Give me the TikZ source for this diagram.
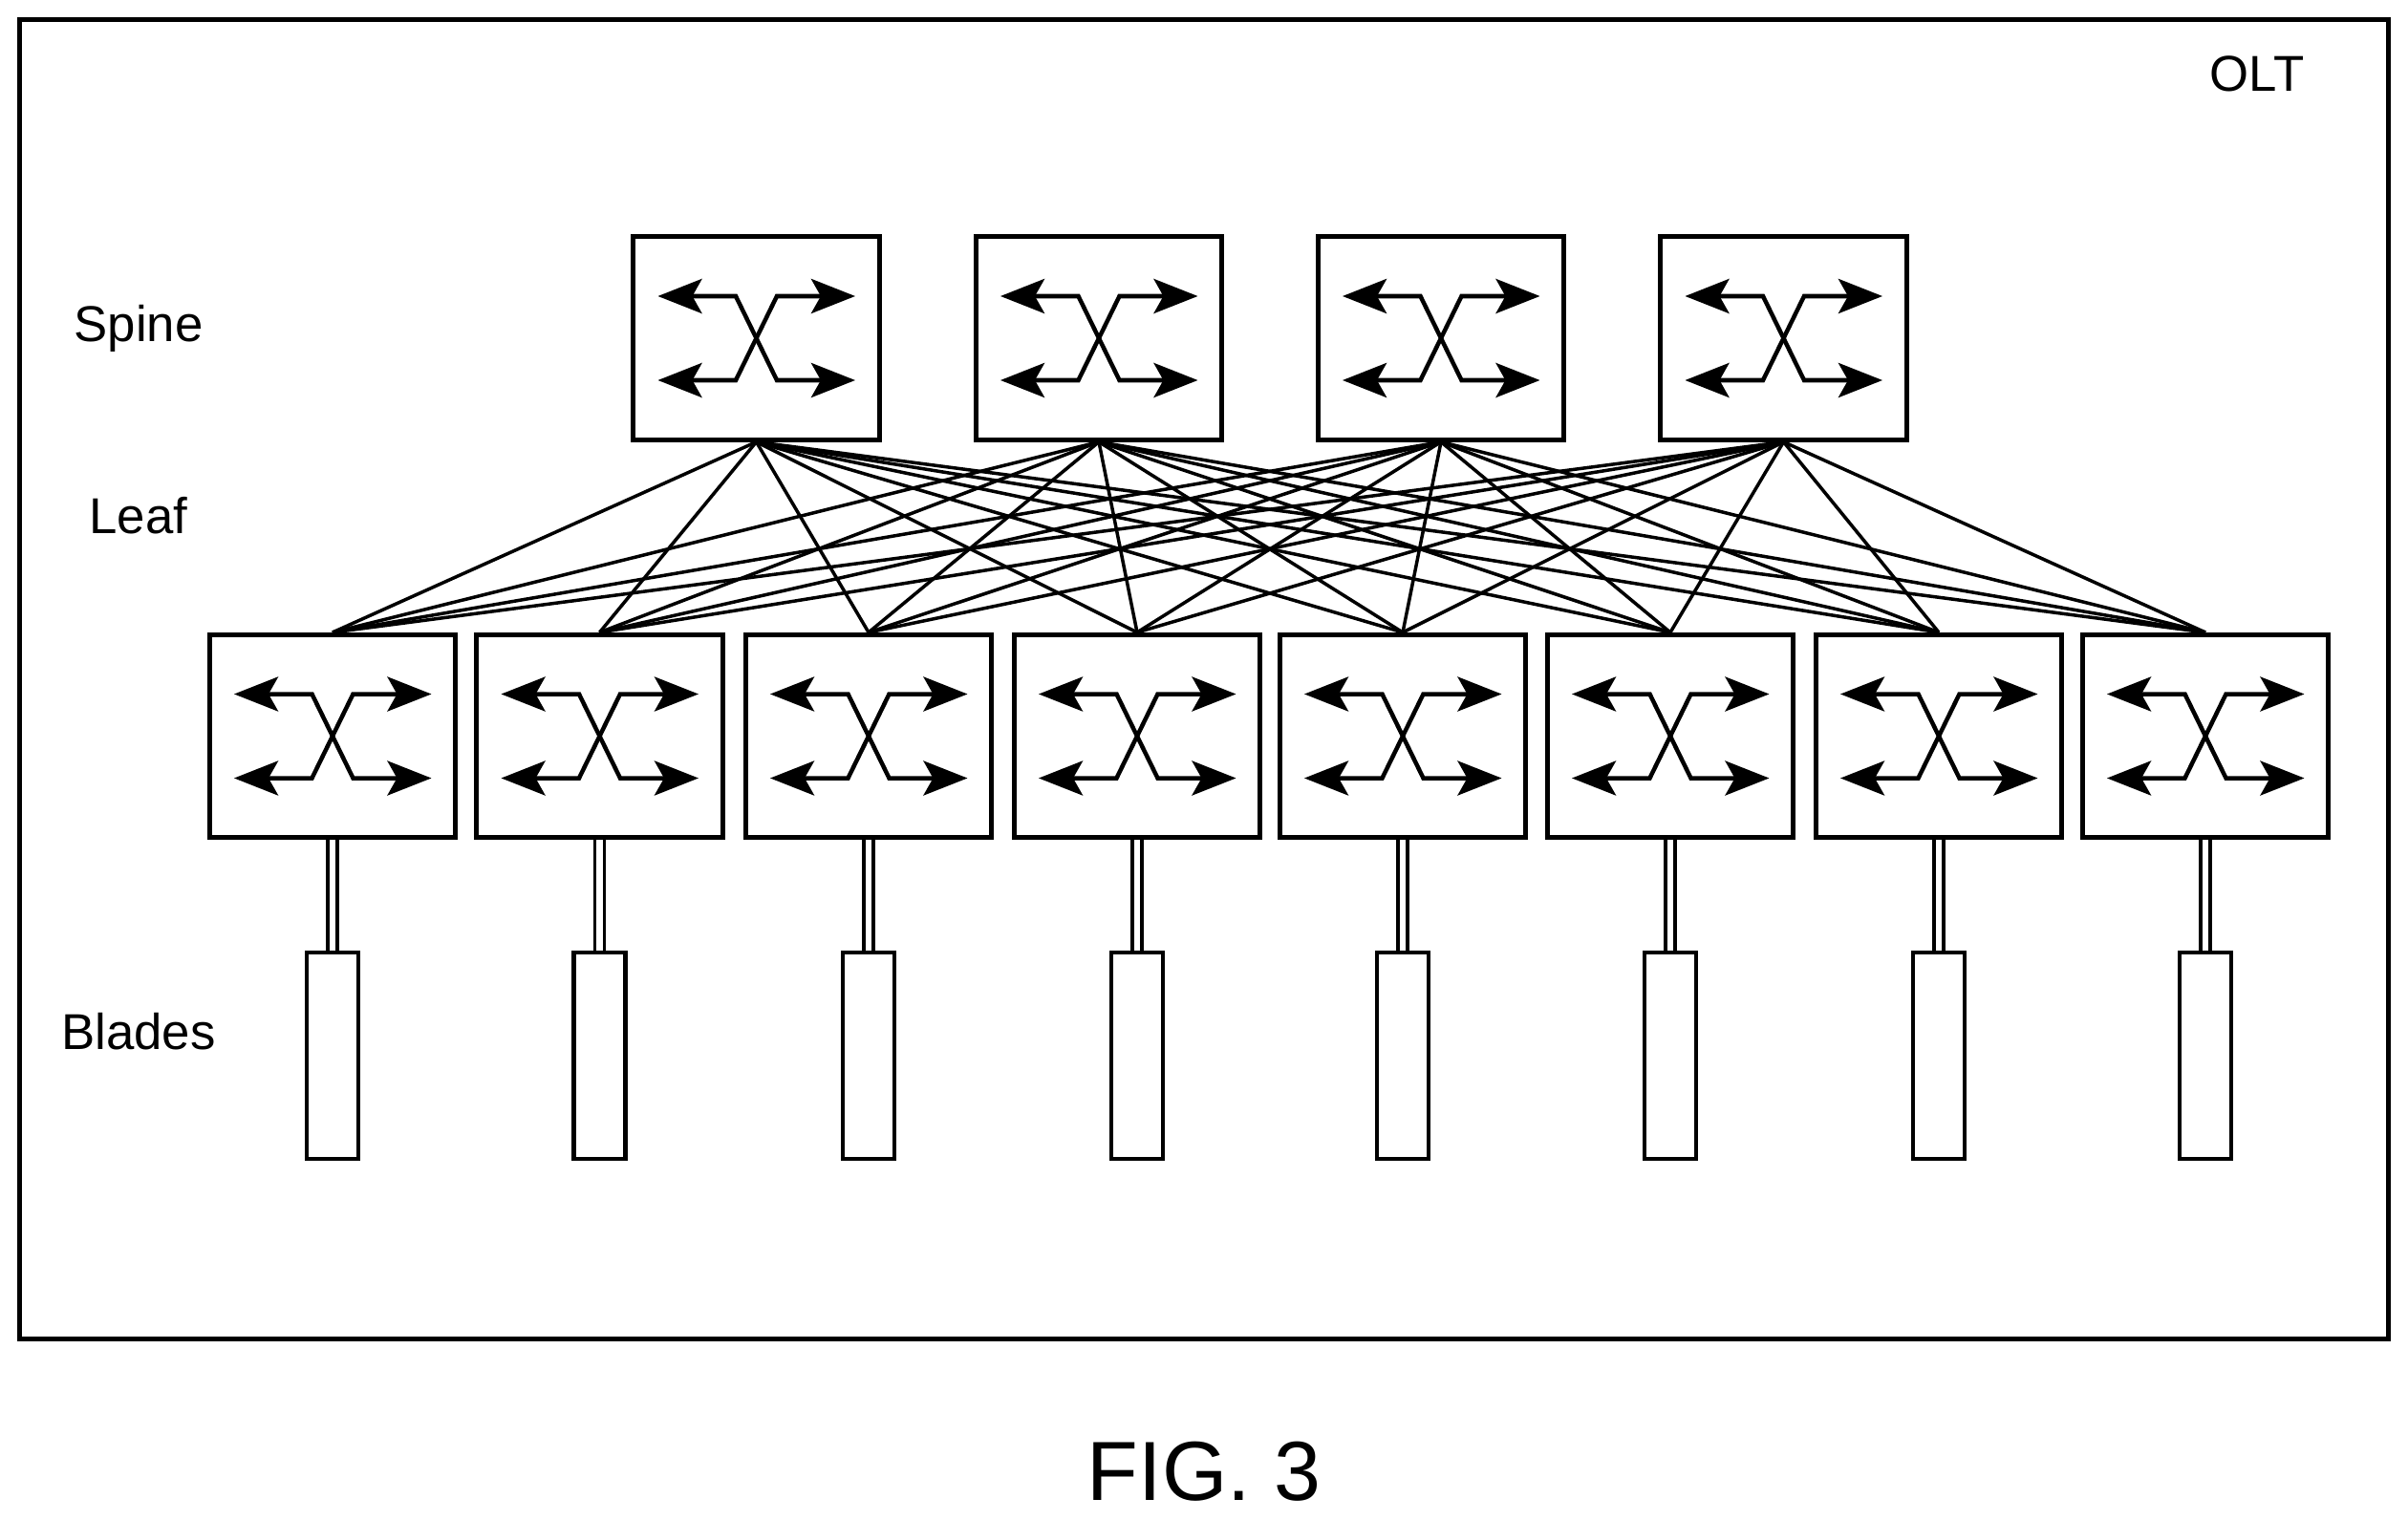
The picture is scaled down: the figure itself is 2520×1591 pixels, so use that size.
\documentclass[tikz,border=0pt]{standalone}
\usepackage{fontspec}
\setmainfont{Liberation Sans}
\usetikzlibrary{arrows.meta}
\begin{document}
\begin{tikzpicture}[x=0.01cm,y=-0.01cm,line join=miter,
  box/.style={draw,line width=0.05cm,minimum width=2.57cm,minimum height=2.12cm,inner sep=0},
  blade/.style={draw,line width=0.045cm,minimum width=0.54cm,minimum height=2.16cm,inner sep=0},
  link/.style={line width=0.035cm},
  sw/.style={line width=0.045cm,{Stealth[length=0.46cm,width=0.36cm,inset=0.1cm]}-{Stealth[length=0.46cm,width=0.36cm,inset=0.1cm]}},
  lbl/.style={font=\fontsize{15}{18}\selectfont}]
\useasboundingbox (0,0) rectangle (2520,1591);
\node[draw,line width=0.045cm,minimum width=24.78cm,minimum height=13.8cm,inner sep=0] (olt) at (1260,711) {};
\node[lbl] (oltl) at (2362,77) {OLT};
\node[lbl] (ls) at (145,344) {Spine};
\node[lbl] (ll) at (145,540) {Leaf};
\node[lbl] (lb) at (145,1080) {Blades};
\node[font=\fontsize{25}{30}\selectfont] (fig) at (1260,1540) {FIG. 3};
\foreach \i/\x in {1/791.5,2/1150,3/1508,4/1866.5}{
  \node[box] (s\i) at (\x,354) {};
  \draw[sw] (\x-103,354-44) -- (\x-21.5,354-44) -- (\x+21.5,354+44) -- (\x+103.5,354+44);
  \draw[sw] (\x-103,354+44) -- (\x-21.5,354+44) -- (\x+21.5,354-44) -- (\x+103.5,354-44);
}
\foreach \i/\x in {1/348,2/627.5,3/909,4/1190,5/1468,6/1748,7/2029,8/2308}{
  \node[box] (l\i) at (\x,770.5) {};
  \draw[sw] (\x-103,770.5-44) -- (\x-21.5,770.5-44) -- (\x+21.5,770.5+44) -- (\x+103.5,770.5+44);
  \draw[sw] (\x-103,770.5+44) -- (\x-21.5,770.5+44) -- (\x+21.5,770.5-44) -- (\x+103.5,770.5-44);
  \node[blade] (b\i) at (\x,1105) {};
  \draw[line width=0.035cm,double,double distance=0.065cm] (l\i.south) -- (b\i.north);
}
\foreach \s in {1,...,4}{\foreach \l in {1,...,8}{\draw[link] (s\s.south) -- (l\l.north);}}
\end{tikzpicture}
\end{document}
